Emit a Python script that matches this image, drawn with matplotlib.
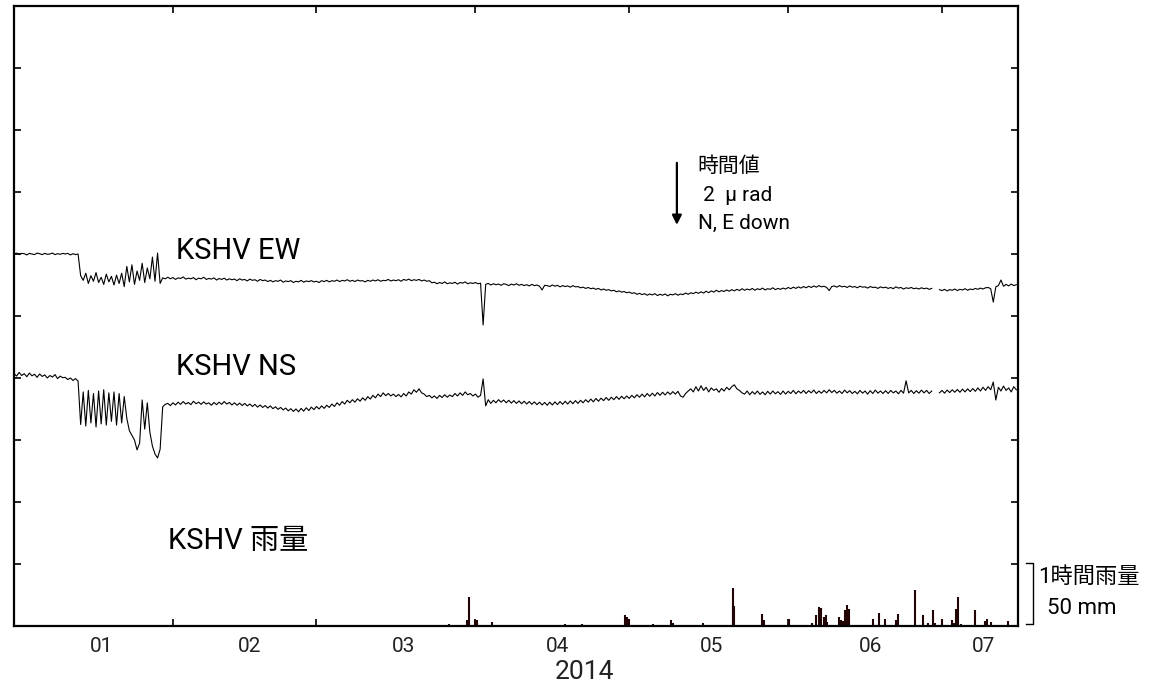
import numpy as np
import pandas as pd
import matplotlib
matplotlib.use('Agg')
import matplotlib.pyplot as plt
from matplotlib.lines import Line2D

plt.rcParams['font.family'] = ['Roboto', 'Noto Sans CJK JP', 'DejaVu Sans']

# tilt, 12-hour samples from 2014-01-01 00:00, in micro-radian (relative)
ew = [
    0.00, 0.03, -0.02, 0.02, 0.01, -0.03, 0.02, 0.00, -0.02, 0.03, 0.01, -0.02, 0.02, -0.01, 0.00, 0.03, -0.02, 0.01, -0.01, 0.02,
    0.00, 0.02, -0.03, 0.01, -0.02, 0.00, -0.70, -0.85, -0.62, -0.95, -0.70, -0.88, -0.60, -0.92, -0.75, -0.98, -0.65, -0.90, -0.72, -1.00,
    -0.68, -0.95, -0.62, -1.05, -0.40, -0.90, -0.35, -0.98, -0.55, -0.85, -0.30, -0.92, -0.45, -0.80, -0.10, -0.88, 0.03, -0.95, -0.77, -0.80,
    -0.75, -0.80, -0.76, -0.82, -0.77, -0.79, -0.74, -0.81, -0.78, -0.80, -0.76, -0.83, -0.78, -0.80, -0.75, -0.82, -0.79, -0.81, -0.77, -0.84,
    -0.79, -0.82, -0.78, -0.84, -0.80, -0.83, -0.81, -0.86, -0.80, -0.84, -0.82, -0.87, -0.81, -0.85, -0.83, -0.88, -0.82, -0.86, -0.84, -0.89,
    -0.85, -0.90, -0.86, -0.88, -0.84, -0.91, -0.87, -0.89, -0.86, -0.92, -0.88, -0.90, -0.85, -0.91, -0.87, -0.89, -0.86, -0.90, -0.88, -0.92,
    -0.86, -0.89, -0.85, -0.90, -0.86, -0.88, -0.84, -0.89, -0.85, -0.87, -0.83, -0.88, -0.85, -0.89, -0.84, -0.87, -0.86, -0.90, -0.85, -0.88,
    -0.84, -0.87, -0.83, -0.88, -0.85, -0.86, -0.82, -0.87, -0.84, -0.86, -0.83, -0.88, -0.82, -0.85, -0.81, -0.86, -0.83, -0.85, -0.82, -0.87,
    -0.84, -0.88, -0.86, -0.93, -0.91, -0.96, -0.92, -0.95, -0.90, -0.96, -0.93, -0.95, -0.91, -0.97, -0.92, -0.94, -0.90, -0.96, -0.93, -0.95,
    -0.92, -0.96, -0.94, -2.29, -0.98, -0.95, -1.00, -0.96, -0.99, -0.97, -1.01, -0.96, -0.98, -1.02, -0.97, -1.00, -0.96, -1.01, -0.98, -1.02,
    -0.99, -1.03, -0.98, -1.02, -1.00, -1.04, -1.16, -1.01, -1.02, -1.05, -1.00, -1.04, -1.01, -1.06, -1.02, -1.05, -1.03, -1.07, -1.02, -1.06,
    -1.05, -1.09, -1.07, -1.11, -1.08, -1.12, -1.10, -1.14, -1.11, -1.16, -1.13, -1.17, -1.15, -1.19, -1.17, -1.22, -1.19, -1.23, -1.21, -1.25,
    -1.23, -1.27, -1.25, -1.30, -1.27, -1.31, -1.28, -1.33, -1.29, -1.32, -1.28, -1.34, -1.30, -1.33, -1.29, -1.35, -1.30, -1.32, -1.28, -1.33,
    -1.29, -1.31, -1.26, -1.30, -1.25, -1.28, -1.23, -1.27, -1.22, -1.26, -1.20, -1.25, -1.19, -1.23, -1.17, -1.22, -1.18, -1.21, -1.16, -1.20,
    -1.15, -1.19, -1.14, -1.18, -1.12, -1.17, -1.13, -1.16, -1.11, -1.17, -1.12, -1.15, -1.10, -1.16, -1.12, -1.14, -1.09, -1.15, -1.11, -1.14,
    -1.10, -1.13, -1.08, -1.12, -1.07, -1.11, -1.06, -1.10, -1.05, -1.09, -1.04, -1.08, -1.03, -1.07, -1.02, -1.06, -1.04, -1.08, -1.18, -1.05,
    -1.03, -1.07, -1.02, -1.06, -1.04, -1.08, -1.03, -1.07, -1.05, -1.09, -1.04, -1.07, -1.06, -1.10, -1.05, -1.08, -1.07, -1.11, -1.06, -1.09,
    -1.07, -1.11, -1.08, -1.12, -1.06, -1.10, -1.08, -1.13, -1.09, -1.11, -1.08, -1.12, -1.10, -1.13, -1.09, -1.12, -1.10, -1.14, -1.11, np.nan,
    np.nan, -1.15, -1.18, -1.14, -1.19, -1.15, -1.17, -1.13, -1.18, -1.14, -1.16, -1.12, -1.17, -1.13, -1.15, -1.11, -1.14, -1.10, -1.13, -1.09,
    -1.08, -1.12, -1.55, -1.06, -1.02, -0.84, -1.04, -0.98, -1.03, -0.97, -1.02, -0.99,
]

ns = [
    0.05, -0.04, 0.08, -0.02, 0.04, -0.06, 0.06, -0.03, 0.02, -0.08, 0.03, -0.05, 0.00, -0.10, -0.02, -0.07, 0.01, -0.12, -0.04, -0.09,
    -0.08, -0.15, -0.10, -0.18, -0.12, -0.20, -1.60, -0.55, -1.65, -0.50, -1.55, -0.60, -1.68, -0.52, -1.58, -0.48, -1.62, -0.58, -1.50, -0.55,
    -1.62, -0.60, -1.55, -0.70, -1.40, -1.80, -1.95, -2.10, -2.42, -2.20, -0.81, -1.75, -0.90, -1.85, -2.30, -2.55, -2.68, -2.40, -1.03, -0.95,
    -0.92, -0.99, -0.90, -0.97, -0.88, -0.95, -0.86, -0.94, -0.89, -0.96, -0.85, -0.93, -0.88, -0.95, -0.87, -0.94, -0.90, -0.98, -0.89, -0.96,
    -0.88, -0.95, -0.86, -0.94, -0.89, -0.97, -0.90, -0.98, -0.91, -0.99, -0.92, -1.00, -0.94, -1.02, -0.95, -1.04, -0.97, -1.05, -0.99, -1.07,
    -1.00, -1.09, -1.03, -1.11, -1.05, -1.13, -1.07, -1.16, -1.09, -1.18, -1.10, -1.19, -1.08, -1.17, -1.06, -1.15, -1.04, -1.12, -1.02, -1.10,
    -1.00, -1.08, -0.98, -1.05, -0.94, -1.02, -0.90, -0.98, -0.86, -0.94, -0.82, -0.90, -0.80, -0.88, -0.77, -0.85, -0.74, -0.82, -0.70, -0.78,
    -0.66, -0.74, -0.62, -0.70, -0.58, -0.67, -0.60, -0.68, -0.62, -0.70, -0.63, -0.71, -0.60, -0.68, -0.55, -0.62, -0.48, -0.56, -0.45, -0.58,
    -0.62, -0.70, -0.66, -0.74, -0.68, -0.76, -0.66, -0.73, -0.64, -0.72, -0.65, -0.70, -0.60, -0.68, -0.58, -0.66, -0.55, -0.64, -0.60, -0.68,
    -0.62, -0.72, -0.66, -0.13, -1.00, -0.80, -0.92, -0.82, -0.90, -0.80, -0.88, -0.81, -0.90, -0.82, -0.91, -0.83, -0.92, -0.84, -0.93, -0.85,
    -0.94, -0.86, -0.95, -0.87, -0.96, -0.88, -0.97, -0.89, -0.98, -0.88, -0.97, -0.87, -0.96, -0.86, -0.95, -0.85, -0.94, -0.84, -0.93, -0.83,
    -0.92, -0.82, -0.90, -0.80, -0.88, -0.78, -0.87, -0.76, -0.85, -0.75, -0.83, -0.73, -0.82, -0.72, -0.80, -0.70, -0.79, -0.69, -0.77, -0.68,
    -0.76, -0.66, -0.74, -0.64, -0.72, -0.62, -0.71, -0.60, -0.69, -0.59, -0.68, -0.57, -0.66, -0.56, -0.65, -0.55, -0.63, -0.54, -0.62, -0.53,
    -0.68, -0.72, -0.60, -0.52, -0.45, -0.55, -0.38, -0.52, -0.35, -0.50, -0.40, -0.55, -0.42, -0.50, -0.45, -0.56, -0.44, -0.52, -0.40, -0.48,
    -0.38, -0.32, -0.45, -0.50, -0.58, -0.62, -0.52, -0.64, -0.54, -0.62, -0.52, -0.63, -0.55, -0.64, -0.53, -0.62, -0.52, -0.61, -0.54, -0.63,
    -0.52, -0.62, -0.53, -0.60, -0.50, -0.61, -0.52, -0.59, -0.50, -0.60, -0.51, -0.58, -0.49, -0.60, -0.52, -0.59, -0.50, -0.58, -0.48, -0.57,
    -0.50, -0.59, -0.52, -0.60, -0.49, -0.58, -0.51, -0.60, -0.53, -0.61, -0.50, -0.59, -0.52, -0.62, -0.51, -0.60, -0.49, -0.59, -0.52, -0.60,
    -0.51, -0.60, -0.50, -0.58, -0.52, -0.61, -0.50, -0.59, -0.19, -0.58, -0.50, -0.60, -0.51, -0.59, -0.49, -0.58, -0.50, -0.60, -0.52, np.nan,
    np.nan, -0.58, -0.50, -0.59, -0.49, -0.57, -0.48, -0.56, -0.47, -0.56, -0.46, -0.55, -0.45, -0.54, -0.44, -0.53, -0.42, -0.52, -0.40, -0.50,
    -0.38, -0.48, -0.23, -0.81, -0.40, -0.52, -0.36, -0.50, -0.42, -0.55, -0.38, -0.48,
]

# hourly rainfall (mm)
rain_time = [
    '2014-03-26 20:00', '2014-03-30 09:00', '2014-03-30 16:00', '2014-03-31 21:00', '2014-04-01 05:00',
    '2014-04-04 04:00', '2014-04-07 08:00', '2014-04-18 10:00', '2014-04-21 17:00',
    '2014-04-30 03:00', '2014-04-30 12:00', '2014-04-30 21:00', '2014-05-05 17:00',
    '2014-05-09 02:00', '2014-05-09 14:00', '2014-05-12 19:00', '2014-05-15 10:00',
    '2014-05-21 05:00', '2014-05-21 08:00', '2014-05-21 11:00',
    '2014-05-26 21:00', '2014-05-27 05:00', '2014-05-28 17:00', '2014-06-01 02:00',
    '2014-06-05 17:00', '2014-06-06 10:00', '2014-06-07 00:00', '2014-06-07 08:00', '2014-06-07 22:00',
    '2014-06-08 07:00', '2014-06-08 16:00', '2014-06-10 22:00', '2014-06-11 07:00',
    '2014-06-11 16:00', '2014-06-12 01:00', '2014-06-12 10:00', '2014-06-12 19:00',
    '2014-06-17 12:00', '2014-06-18 19:00', '2014-06-19 21:00', '2014-06-22 03:00', '2014-06-22 08:00',
    '2014-06-25 17:00', '2014-06-27 05:00', '2014-06-28 08:00', '2014-06-29 05:00', '2014-06-29 14:00',
    '2014-07-01 02:00', '2014-07-02 23:00', '2014-07-03 07:00', '2014-07-03 19:00', '2014-07-04 05:00',
    '2014-07-04 19:00', '2014-07-07 10:00', '2014-07-09 07:00', '2014-07-09 20:00', '2014-07-10 14:00',
    '2014-07-13 22:00',
]
rain_mm = [
    1.5, 5, 23, 5, 5,
    3, 1, 1.5, 1.5,
    9, 7, 6, 1.3,
    4.6, 2.4, 1, 2,
    17, 31, 16,
    10, 4.6, 0.5, 6,
    2.7, 8.6, 15, 14.5, 7,
    8.6, 3, 7, 4.6,
    3.8, 12.6, 17, 14,
    6, 10.5, 6, 4.6, 10,
    28.8, 8.6, 2.4, 12.6, 2.4,
    6, 4.6, 2.4, 14, 23.4,
    1.6, 12.6, 3.8, 6, 3.2,
    3.8,
]

month_starts = ['2014-02-01', '2014-03-01', '2014-04-01', '2014-05-01', '2014-06-01', '2014-07-01']
month_labels = ['01', '02', '03', '04', '05', '06', '07']
label_dates = ['2014-01-18', '2014-02-16', '2014-03-18', '2014-04-17', '2014-05-17', '2014-06-17', '2014-07-09']

t_ew = pd.date_range('2014-01-01', periods=len(ew), freq='12h')
t_ns = pd.date_range('2014-01-01', periods=len(ns), freq='12h')

fig = plt.figure(figsize=(11.57, 6.91), dpi=100)
ax = fig.add_axes([0.0121, 0.0941, 0.8678, 0.8972])

# 1 division = 2 micro-radian, rain: 1 division = 50 mm
ax.plot(t_ew, np.array(ew) / 2 + 6.0, color='black', lw=0.8)
ax.plot(t_ns, np.array(ns) / 2 + 4.05, color='black', lw=0.8)
ax.vlines(pd.to_datetime(rain_time), 0, np.array(rain_mm) / 50, color='#220404', lw=1.5)

ax.set_xlim(pd.Timestamp('2014-01-01'), pd.Timestamp('2014-07-15 20:00'))
ax.set_ylim(0, 10)
ax.set_yticks(range(11))
ax.set_yticklabels([])
ax.set_xticks(pd.to_datetime(month_starts))
ax.set_xticklabels([])
ax.set_xticks(pd.to_datetime(label_dates), minor=True)
ax.set_xticklabels(month_labels, minor=True, fontsize=15, color='#222222')
ax.tick_params(which='major', direction='in', length=5, width=1.2, top=True, right=True)
ax.tick_params(axis='x', which='minor', length=0, pad=8)
for s in ax.spines.values():
    s.set_linewidth(1.6)

ax.text(0.161, 0.605, 'KSHV EW', transform=ax.transAxes, fontsize=21, va='center', ha='left')
ax.text(0.161, 0.418, 'KSHV NS', transform=ax.transAxes, fontsize=21, va='center', ha='left')
ax.text(0.153, 0.137, 'KSHV 雨量', transform=ax.transAxes, fontsize=21, va='center', ha='left')

# scale arrow
ax.annotate('', xy=(pd.Timestamp('2014-05-10 07:00'), 6.47), xytext=(pd.Timestamp('2014-05-10 07:00'), 7.47),
            arrowprops=dict(arrowstyle='-|>', lw=1.6, color='black', mutation_scale=14, shrinkA=0, shrinkB=0))
ax.text(0.681, 0.741, '時間値', transform=ax.transAxes, fontsize=15, va='center', ha='left')
ax.text(0.681, 0.695, ' 2  µ rad', transform=ax.transAxes, fontsize=15, va='center', ha='left')
ax.text(0.681, 0.650, 'N, E down', transform=ax.transAxes, fontsize=15, va='center', ha='left')

# rain scale bracket
fig.add_artist(Line2D([0.8868, 0.8928, 0.8928, 0.8868], [0.1852, 0.1852, 0.0970, 0.0970],
                      transform=fig.transFigure, color='black', lw=1.0))
fig.text(0.897, 0.165, '1時間雨量', fontsize=16, va='center', ha='left')
fig.text(0.905, 0.119, '50 mm', fontsize=16, va='center', ha='left')

fig.text(0.5056, 0.0275, '2014', fontsize=19, va='center', ha='center', color='#222222')

fig.savefig('out.png', dpi=100)
